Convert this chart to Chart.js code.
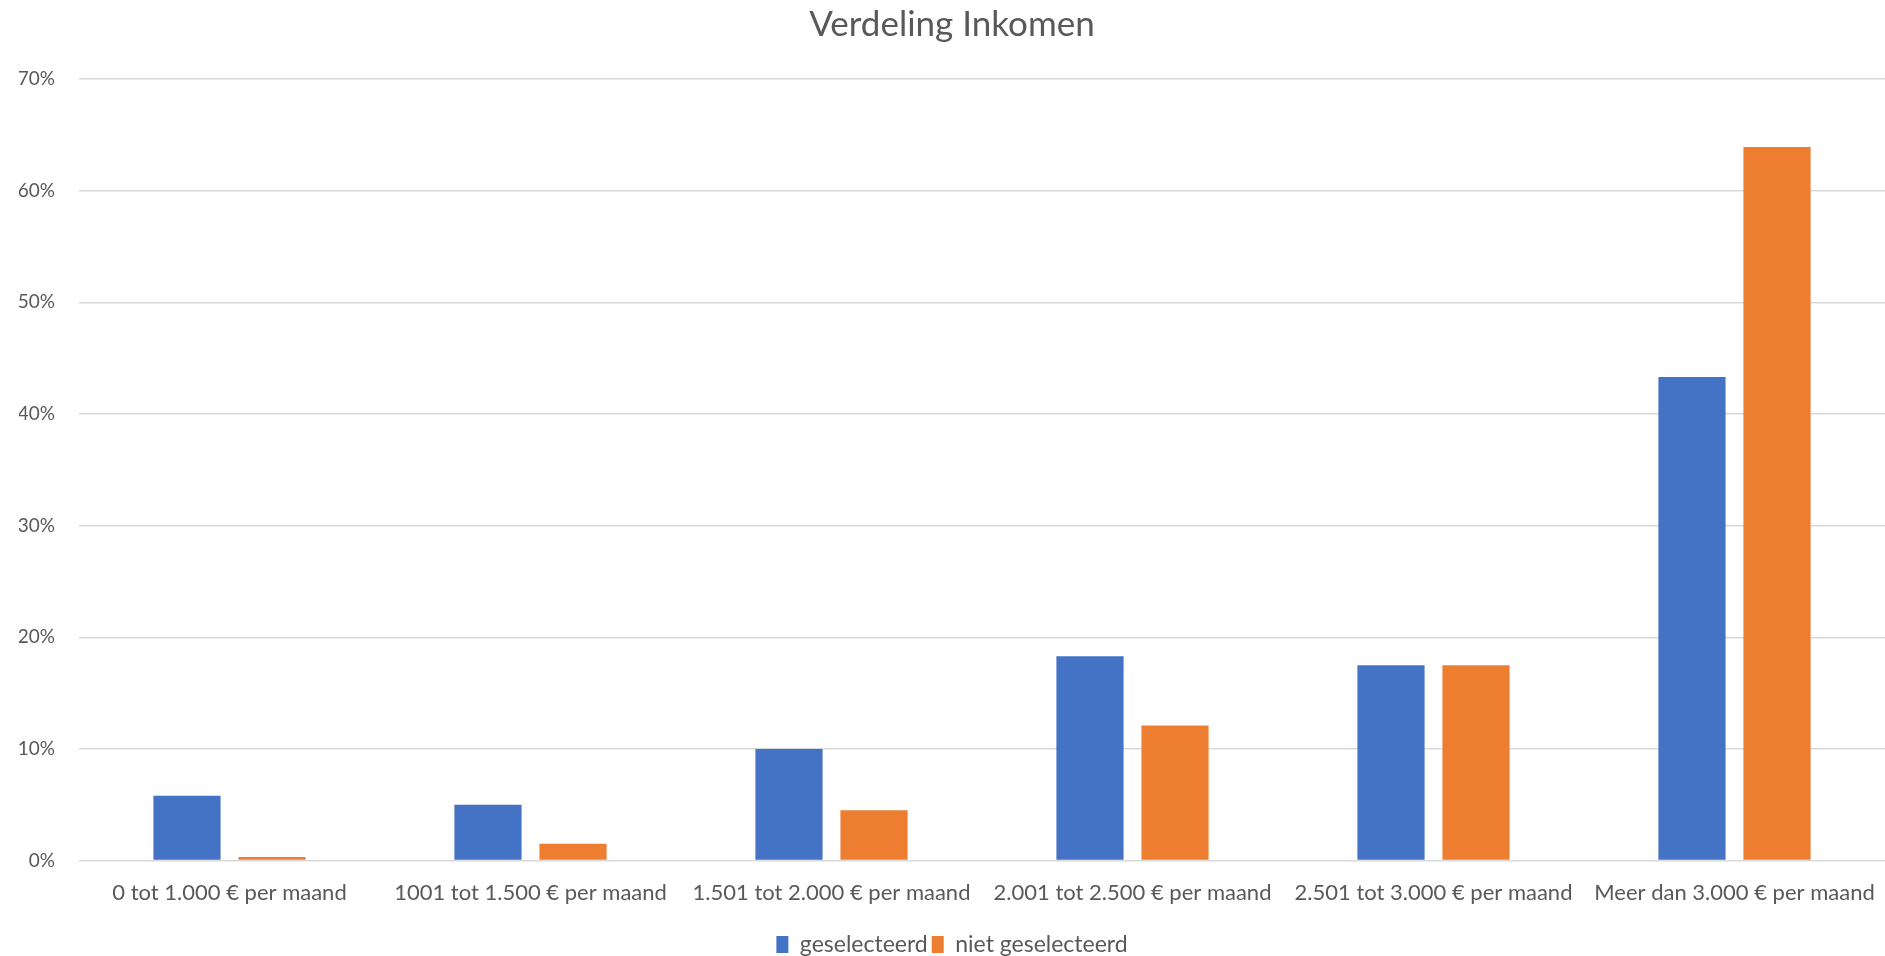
<!DOCTYPE html>
<html>
<head>
<meta charset="utf-8">
<script src="https://cdn.jsdelivr.net/npm/chart.js@4/dist/chart.umd.min.js"></script>
<style>
  html, body { margin: 0; padding: 0; background: #fff; }
  #wrap { width: 1885px; height: 956px; }
</style>
</head>
<body>
<div id="wrap"><canvas id="incomeChart"></canvas></div>
<script>
// Data for chart
const categories = [
  '0 tot 1.000 € per maand',
  '1001 tot 1.500 € per maand',
  '1.501 tot 2.000 € per maand',
  '2.001 tot 2.500 € per maand',
  '2.501 tot 3.000 € per maand',
  'Meer dan 3.000 € per maand',
];
const selected = [5.8, 5.0, 10.0, 18.3, 17.5, 43.3];
const notSelected = [0.33, 1.5, 4.5, 12.1, 17.5, 63.9];
const yTicks = [0, 10, 20, 30, 40, 50, 60, 70];

const textColor = '#595959';
const fontFamily = 'Lato, Calibri, sans-serif';

new Chart(document.getElementById('incomeChart'), {
  type: 'bar',
  data: {
    labels: categories,
    datasets: [
      {
        label: 'geselecteerd',
        data: selected,
        backgroundColor: '#4472C4',
        categoryPercentage: 0.565,
        barPercentage: 0.79,
      },
      {
        label: 'niet geselecteerd',
        data: notSelected,
        backgroundColor: '#ED7D31',
        categoryPercentage: 0.565,
        barPercentage: 0.79,
      },
    ],
  },
  options: {
    responsive: true,
    maintainAspectRatio: false,
    animation: false,
    layout: { padding: { left: 19, right: 0, top: 0, bottom: -10 } },
    plugins: {
      title: {
        display: true,
        text: 'Verdeling Inkomen',
        color: textColor,
        font: { family: fontFamily, size: 35, weight: 'normal' },
        padding: { top: 4, bottom: 33 },
      },
      legend: {
        display: true,
        position: 'bottom',
        labels: {
          color: textColor,
          font: { family: fontFamily, size: 23 },
          boxWidth: 12,
          boxHeight: 17,
          padding: 4,
        },
      },
      tooltip: { enabled: false },
    },
    scales: {
      x: {
        grid: { display: false },
        border: { display: false },
        ticks: {
          color: textColor,
          font: { family: fontFamily, size: 22 },
          padding: 11,
          maxRotation: 0,
          autoSkip: false,
        },
        afterFit: (scale) => {
          scale.height += 12;
          scale.paddingLeft = 0;
          scale.paddingRight = 0;
        },
      },
      y: {
        min: 0,
        max: 70,
        afterBuildTicks: (axis) => { axis.ticks = yTicks.map(v => ({ value: v })); },
        afterFit: (scale) => { scale.width = 60; },
        grid: { color: '#D9D9D9', lineWidth: 1.5, drawTicks: false },
        border: { display: false },
        ticks: {
          color: textColor,
          font: { family: fontFamily, size: 19 },
          padding: 24,
          callback: (v) => v + '%',
        },
      },
    },
  },
});
</script>
</body>
</html>
